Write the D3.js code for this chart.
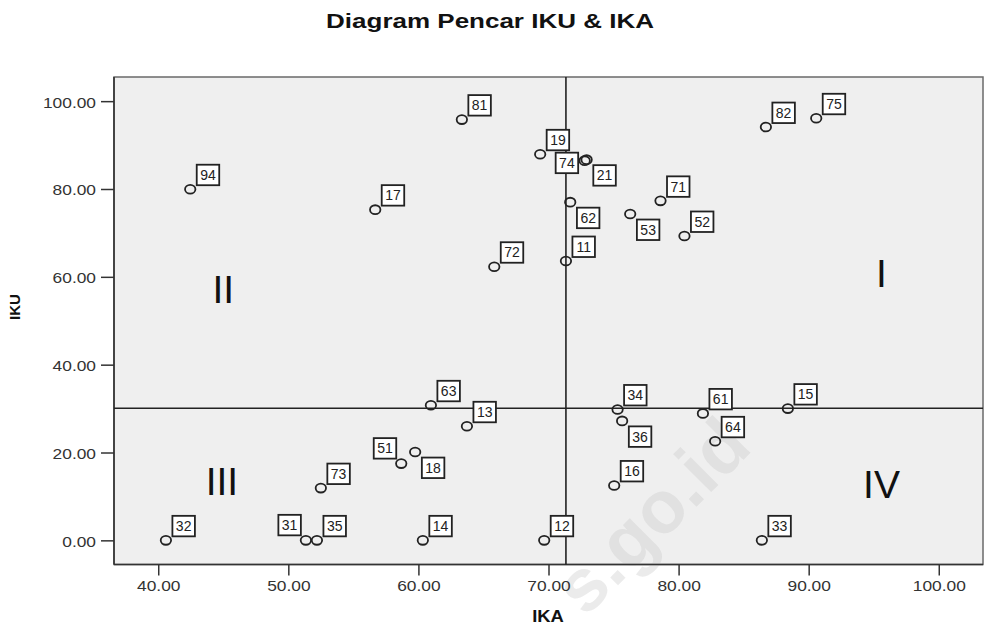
<!DOCTYPE html>
<html>
<head>
<meta charset="utf-8">
<script src="https://cdn.jsdelivr.net/npm/d3@7"></script>
<style>
  html, body { margin: 0; padding: 0; background: #ffffff; }
  svg { display: block; }
  text { font-family: "Liberation Sans", Arial, sans-serif; }
</style>
</head>
<body>
<div id="chart"></div>
<script>
// Case identifiers shown in the boxed labels
const caseIds = ["94","17","81","19","74","21","62","11","72","53","71","52","82","75",
                 "32","31","35","73","51","18","63","13","14","12","34","36","16","61","15","64","33"];
// IKA (x) values
const ikaValues = [42.46, 56.68, 63.34, 69.36, 72.78, 72.93, 71.67, 71.34, 65.83, 76.28, 78.61, 80.45, 86.71, 90.58,
                   40.59, 51.35, 52.20, 52.50, 58.68, 59.75, 60.96, 63.73, 60.34, 69.67, 75.31, 75.66, 75.05, 81.87, 88.40, 82.81, 86.40];
// IKU (y) values
const ikuValues = [79.95, 75.30, 95.80, 87.90, 86.45, 86.68, 77.00, 63.60, 62.30, 74.30, 77.30, 69.30, 94.10, 96.10,
                   0.00, 0.00, 0.00, 11.90, 17.47, 20.10, 30.75, 25.97, 0.00, 0.00, 29.80, 27.20, 12.50, 28.90, 30.00, 22.55, 0.00];
// Where each case label sits relative to its marker
const labelSides = ["ne","ne","ne","ne","w","se","se","ne","ne","se","ne","ne","ne","ne",
                    "ne","nw","ne","ne","nw","se","ne","ne","ne","ne","ne","se","ne","ne","ne","ne","ne"];

// Axis ticks
const xTicks = [40, 50, 60, 70, 80, 90, 100];
const yTicks = [0, 20, 40, 60, 80, 100];

// Quadrant divider lines
const ikaDivider = 71.34;
const ikuDivider = 30.07;

// Quadrant names and their anchor (IKA, IKU) positions
const quadrantNames = ["I", "II", "III", "IV"];
const quadrantIka = [95.6, 45.0, 44.9, 95.6];
const quadrantIku = [57.7, 54.0, 10.3, 9.6];

const W = 985, H = 629;
const svg = d3.select("#chart").append("svg").attr("width", W).attr("height", H);

const x = d3.scaleLinear().domain([36.6, 103.4]).range([114, 983]);
const y = d3.scaleLinear().domain([-5.5, 105.5]).range([564.5, 77]);

// Plot background
svg.append("rect")
  .attr("x", x.range()[0]).attr("y", y.range()[1])
  .attr("width", x.range()[1] - x.range()[0])
  .attr("height", y.range()[0] - y.range()[1])
  .attr("fill", "#efefef")
  .attr("stroke", "#6a6a6a").attr("stroke-width", 1.5);

// Faint site mark across the lower right
svg.append("text")
  .attr("transform", "translate(656,520) rotate(-45)")
  .attr("text-anchor", "middle")
  .attr("dy", "0.26em")
  .attr("font-size", 74).attr("font-weight", "bold")
  .attr("fill", "#c8c8c8").attr("fill-opacity", 0.36)
  .text("s.go.id");

// Axes
const xAxis = svg.append("g")
  .attr("transform", `translate(0,${y.range()[0]})`)
  .call(d3.axisBottom(x).tickValues(xTicks).tickFormat(d => d.toFixed(2)).tickSize(11).tickPadding(6));
const yAxis = svg.append("g")
  .attr("transform", `translate(${x.range()[0]},0)`)
  .call(d3.axisLeft(y).tickValues(yTicks).tickFormat(d => d.toFixed(2)).tickSize(13).tickPadding(5));

[xAxis, yAxis].forEach(g => {
  g.select(".domain").remove();
  g.selectAll(".tick line").attr("stroke", "#333").attr("stroke-width", 1.5);
  g.selectAll(".tick text").attr("font-size", 14).attr("fill", "#333")
    .attr("font-family", "'Liberation Sans', Arial, sans-serif");
});
const sx = 1.24;
xAxis.selectAll(".tick text").attr("transform", `scale(${sx},1)`);
yAxis.selectAll(".tick text").attr("transform", `scale(${sx},1)`).attr("x", -18 / sx).attr("dy", "0.42em");

// Axis lines (left and bottom drawn darker)
svg.append("line").attr("x1", x.range()[0]).attr("x2", x.range()[0])
  .attr("y1", y.range()[1]).attr("y2", y.range()[0]).attr("stroke", "#333").attr("stroke-width", 1.6);
svg.append("line").attr("x1", x.range()[0]).attr("x2", x.range()[1])
  .attr("y1", y.range()[0]).attr("y2", y.range()[0]).attr("stroke", "#333").attr("stroke-width", 1.6);

// Quadrant dividers
svg.append("line")
  .attr("x1", x(ikaDivider)).attr("x2", x(ikaDivider))
  .attr("y1", y.range()[1]).attr("y2", y.range()[0])
  .attr("stroke", "#222").attr("stroke-width", 1.6);
svg.append("line")
  .attr("x1", x.range()[0]).attr("x2", x.range()[1])
  .attr("y1", y(ikuDivider)).attr("y2", y(ikuDivider))
  .attr("stroke", "#222").attr("stroke-width", 1.6);

// Quadrant names
quadrantNames.forEach((q, i) => {
  svg.append("text")
    .attr("x", x(quadrantIka[i])).attr("y", y(quadrantIku[i]))
    .attr("text-anchor", "middle")
    .attr("font-size", 39).attr("font-weight", 300)
    .attr("fill", "#111")
    .text(q);
});

// Points
const points = caseIds.map((id, i) => ({ id, ika: ikaValues[i], iku: ikuValues[i], side: labelSides[i] }));

svg.append("g").selectAll("ellipse").data(points).join("ellipse")
  .attr("cx", d => x(d.ika)).attr("cy", d => y(d.iku))
  .attr("rx", 5.2).attr("ry", 4.4)
  .attr("fill", "none").attr("stroke", "#222").attr("stroke-width", 1.8);

// Boxed case labels
const bw = 22.5, bh = 20.5;
const boxOffset = {
  ne: [6.5, -24.5],
  se: [6.7, 5.5],
  nw: [-27.5, -25.5],
  w:  [-29, -8]
};
const lab = svg.append("g").selectAll("g").data(points).join("g")
  .attr("transform", d => {
    const o = boxOffset[d.side];
    return `translate(${x(d.ika) + o[0]},${y(d.iku) + o[1]})`;
  });
lab.append("rect")
  .attr("width", bw).attr("height", bh)
  .attr("fill", "#ffffff").attr("stroke", "#222").attr("stroke-width", 1.8);
lab.append("text")
  .attr("x", bw / 2).attr("y", bh / 2 + 5)
  .attr("text-anchor", "middle")
  .attr("font-size", 14).attr("fill", "#222")
  .text(d => d.id);

// Title
svg.append("text")
  .attr("transform", "translate(490,27.5) scale(1.3,1)")
  .attr("text-anchor", "middle")
  .attr("font-size", 20).attr("font-weight", "bold").attr("fill", "#111")
  .text("Diagram Pencar IKU & IKA");

// Axis titles
svg.append("text")
  .attr("transform", "translate(548,622) scale(1.15,1)")
  .attr("text-anchor", "middle")
  .attr("font-size", 16).attr("font-weight", "bold").attr("fill", "#111")
  .text("IKA");
svg.append("text")
  .attr("transform", "translate(19.5,307) rotate(-90)")
  .attr("text-anchor", "middle")
  .attr("font-size", 15).attr("font-weight", "bold").attr("fill", "#111")
  .text("IKU");
</script>
</body>
</html>
